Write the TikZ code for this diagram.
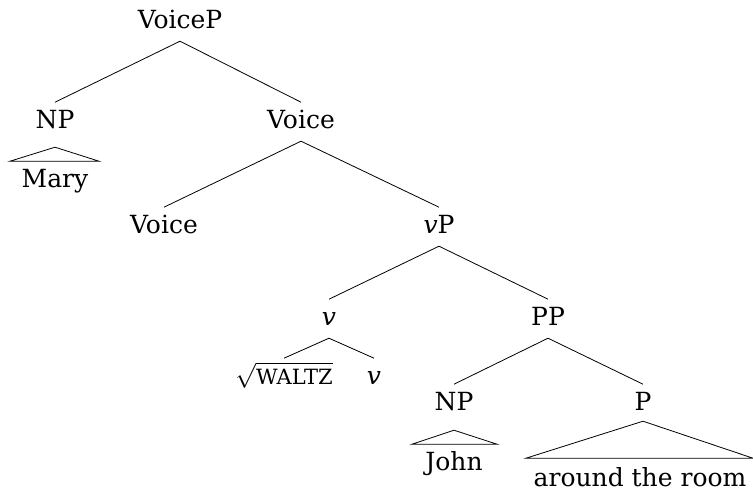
\documentclass[tikz,border=0pt]{standalone}
\usepackage{fontspec}
\setmainfont{DejaVu Serif}
\usetikzlibrary{calc}
\begin{document}
\begin{tikzpicture}[x=1pt,y=1pt,
  lbl/.style={anchor=base,inner sep=0pt,text height=25.6pt,text depth=13pt,
    font=\fontsize{25}{30}\selectfont},
  edge/.style={draw=black,line width=0.8pt},
  tri/.style={draw=black,line width=0.8pt}]
\useasboundingbox (0,0) rectangle (753,-491);
\node[lbl] (voicep) at (180,-28) {VoiceP};
\node[lbl] (np1) at (55,-128) {NP};
\node[lbl] (voice1) at (301,-128) {Voice};
\node[lbl] (mary) at (55,-187) {Mary};
\node[lbl] (voice2) at (164,-233) {Voice};
\node[lbl] (vp) at (439,-233) {\textit{v}P};
\node[lbl] (v1) at (329,-325) {\textit{v}};
\node[lbl] (pp) at (548,-325) {PP};
\node[lbl] (waltz) at (284,-384) {$\sqrt{\mbox{\fontsize{21}{21}\selectfont WALTZ}}$};
\node[lbl] (v2) at (374,-384) {\textit{v}};
\node[lbl] (np2) at (454,-410) {NP};
\node[lbl] (p) at (643,-410) {P};
\node[lbl] (john) at (454,-470) {John};
\node[lbl,text depth=0pt] (room) at (640,-486) {around the room};

\draw[edge] (voicep.south) -- (np1.north);
\draw[edge] (voicep.south) -- (voice1.north);
\draw[edge] (voice1.south) -- (voice2.north);
\draw[edge] (voice1.south) -- (vp.north);
\draw[edge] (vp.south) -- (v1.north);
\draw[edge] (vp.south) -- (pp.north);
\draw[edge] (v1.south) -- (waltz.north);
\draw[edge] (v1.south) -- (v2.north);
\draw[edge] (pp.south) -- (np2.north);
\draw[edge] (pp.south) -- (p.north);

\draw[tri] ($(np1.south)+(0,-6)$) -- ($(mary.north)+(-45,0)$) -- ($(mary.north)+(44,0)$) -- cycle;
\draw[tri] ($(np2.south)+(0,-7)$) -- ($(john.north)+(-42,0)$) -- ($(john.north)+(43,0)$) -- cycle;
\draw[tri] ($(p.south)+(0,2)$) -- ($(room.north)+(-114,2)$) -- ($(room.north)+(113,2)$) -- cycle;
\end{tikzpicture}
\end{document}
